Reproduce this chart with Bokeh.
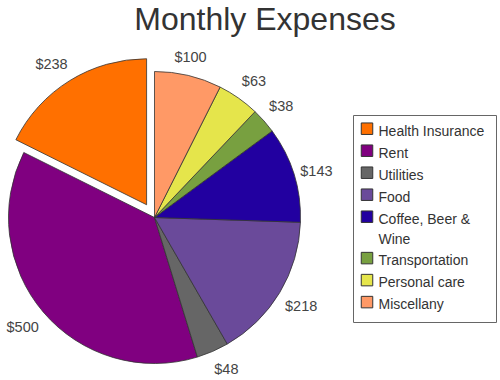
import math
from bokeh.plotting import figure
from bokeh.models import Range1d, ColumnDataSource
from bokeh.core.properties import value
from bokeh.embed import file_html
from bokeh.resources import INLINE

# ---- data ----
categories = ["Health Insurance", "Rent", "Utilities", "Food",
              "Coffee, Beer & Wine", "Transportation", "Personal care", "Miscellany"]
legend_labels = ["Health Insurance", "Rent", "Utilities", "Food",
                 "Coffee, Beer &\nWine", "Transportation", "Personal care", "Miscellany"]
amounts = [238, 500, 48, 218, 143, 38, 63, 100]
colors = ["#FF7000", "#800080", "#666666", "#6A4A9A",
          "#2200A0", "#78A040", "#E5E54B", "#FF9966"]
exploded = ["Health Insurance"]
title_text = "Monthly Expenses"

# ---- layout constants (page pixel coordinates; y flipped) ----
W, H = 500, 380
FONT = "Liberation Sans"
cx, cy = 154, 217          # pie centre, page pixels (y down)
radius = 146
explode_dist = 15
anchor_r = 156
label_fs = 14.5
char_w = 0.556 * label_fs
half_h = 8.5

total = sum(amounts)
starts, ends, xs, ys, lx, ly, texts = [], [], [], [], [], [], []
a = math.pi / 2
for cat, v in zip(categories, amounts):
    span = v / total * 2 * math.pi
    s, e = a, a + span
    mid = (s + e) / 2
    off = explode_dist if cat in exploded else 0
    ux, uy = math.cos(mid), -math.sin(mid)        # screen direction (y down)
    px0 = cx + off * ux
    py0 = cy + off * uy
    txt = "$%d" % v
    hw = 0.8 * len(txt) * char_w / 2
    ax = px0 + anchor_r * ux
    ay = py0 + anchor_r * uy
    dx = hw if ux > 0.3 else (-hw if ux < -0.3 else 0)
    dy = half_h if uy > 0.3 else (-half_h if uy < -0.3 else 0)
    starts.append(s); ends.append(e)
    xs.append(px0); ys.append(H - py0)
    lx.append(ax + dx); ly.append(H - (ay + dy))
    texts.append(txt)
    a = e

src = ColumnDataSource(dict(x=xs, y=ys, start=starts, end=ends, color=colors,
                            lx=lx, ly=ly, text=texts))

p = figure(width=W, height=H, output_backend="svg", toolbar_location=None,
           x_range=Range1d(0, W), y_range=Range1d(0, H),
           min_border=0, outline_line_color=None)
p.axis.visible = False
p.grid.visible = False
p.background_fill_color = "white"
p.border_fill_color = "white"

p.wedge(x="x", y="y", radius=radius, start_angle="start", end_angle="end",
        direction="anticlock", fill_color="color", line_color="#333333",
        line_width=0.8, source=src)

p.text(x="lx", y="ly", text="text", source=src, text_align="center",
       text_baseline="middle", text_font=value(FONT),
       text_font_size="%.1fpx" % label_fs, text_color="#444444")

# title
p.text(x=[264.5], y=[H - 18.4], text=[title_text], text_align="center",
       text_baseline="middle", text_font=value(FONT), text_font_size="32px",
       text_color="#333333")

# legend (drawn manually)
lg_left, lg_right, lg_top, lg_bottom = 353, 496, H - 115, H - 322
p.quad(left=[lg_left], right=[lg_right], top=[lg_top], bottom=[lg_bottom],
       fill_color="white", line_color="#666666", line_width=1)

row_y = []
y = 130.7
for lab in legend_labels:
    row_y.append(y)
    y += 22 + 19.4 * lab.count("\n")

sw_x = [366.5] * len(legend_labels)
sw_y = [H - (r - 2.5) for r in row_y]
p.rect(x=sw_x, y=sw_y, width=11.5, height=11.5, fill_color=colors,
       line_color="#333333", line_width=1)
tx = [378] * len(legend_labels)
ty = [H - r + 8.5 for r in row_y]
p.text(x=tx, y=ty, text=legend_labels, text_align="left", text_baseline="top",
       text_font=value(FONT), text_font_size="14px", text_color="#333333",
       text_line_height=1.27)

open("out.html", "w").write(file_html(p, INLINE))
